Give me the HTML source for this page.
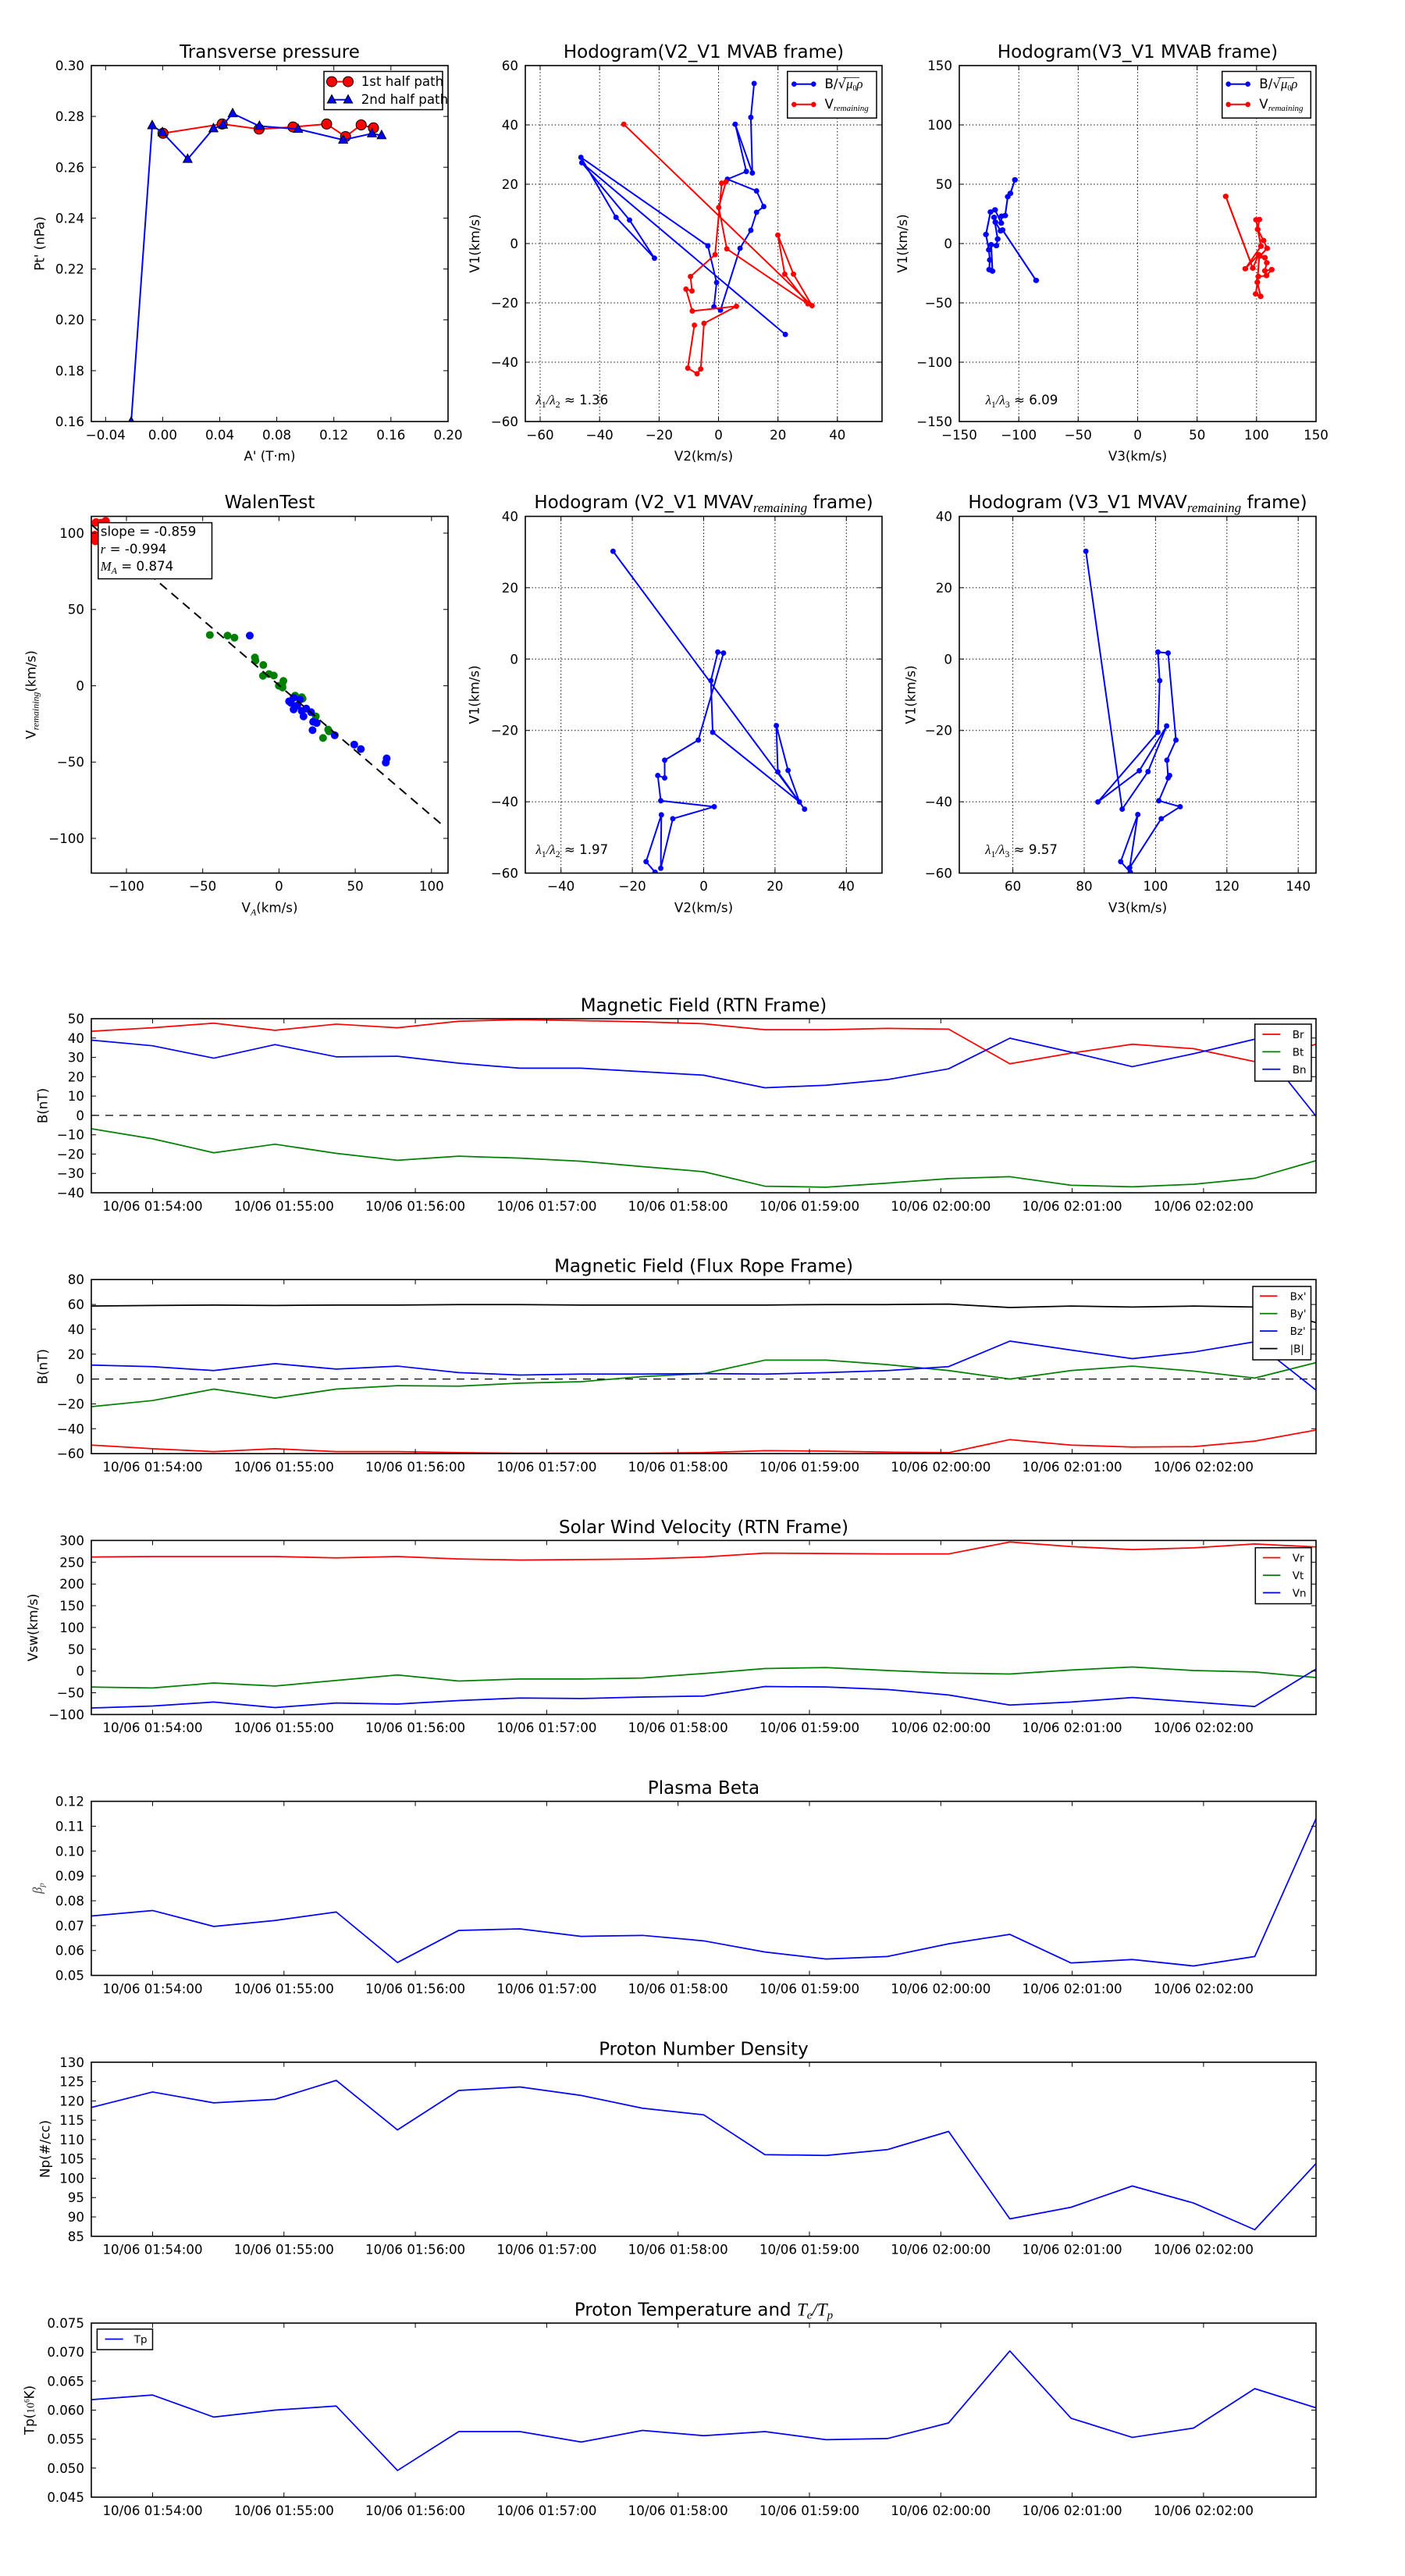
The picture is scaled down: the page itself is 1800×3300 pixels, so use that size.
<!DOCTYPE html>
<html><head><meta charset="utf-8"><style>
html,body{margin:0;padding:0;background:#fff}
svg{display:block}
text{font-family:'DejaVu Sans','Liberation Sans',sans-serif;font-size:16.67px;fill:#000}
.t{font-size:23px;text-anchor:middle}
.ye{text-anchor:end}
.xm{text-anchor:middle}
.mi{font-family:'Liberation Serif','DejaVu Serif',serif;font-style:italic}
.mr{font-family:'Liberation Serif','DejaVu Serif',serif}
.ax{fill:none;stroke:#000;stroke-width:1.6}
.tk{fill:none;stroke:#000;stroke-width:1}
.gr{fill:none;stroke:#000;stroke-width:1;stroke-dasharray:1.4 2.8}
.ts{fill:none;stroke-width:1.75;stroke-linejoin:round}
.lg{font-size:13.5px}
</style></head><body>
<svg width="1800" height="3300" viewBox="0 0 1800 3300" xmlns="http://www.w3.org/2000/svg">
<rect width="1800" height="3300" fill="#fff"/>
<defs>
<clipPath id="c11"><rect x="117" y="84" width="457" height="456"/></clipPath>
<clipPath id="c12"><rect x="673" y="84" width="457" height="456"/></clipPath>
<clipPath id="c13"><rect x="1229" y="84" width="457" height="456"/></clipPath>
<clipPath id="c21"><rect x="117" y="661.5" width="457" height="457"/></clipPath>
<clipPath id="c22"><rect x="673" y="661.5" width="457" height="457"/></clipPath>
<clipPath id="c23"><rect x="1229" y="661.5" width="457" height="457"/></clipPath>
<clipPath id="p1"><rect x="117" y="1305" width="1569" height="223"/></clipPath>
<clipPath id="p2"><rect x="117" y="1639.2" width="1569" height="223"/></clipPath>
<clipPath id="p3"><rect x="117" y="1973.4" width="1569" height="223"/></clipPath>
<clipPath id="p4"><rect x="117" y="2307.6" width="1569" height="223"/></clipPath>
<clipPath id="p5"><rect x="117" y="2641.8" width="1569" height="223"/></clipPath>
<clipPath id="p6"><rect x="117" y="2976" width="1569" height="223"/></clipPath>
<marker id="mc" markerUnits="userSpaceOnUse" markerWidth="44" markerHeight="44" viewBox="-22 -22 44 44" refX="0" refY="0" overflow="visible"><circle r="17" fill="#ff0000" stroke="#000" stroke-width="2.6"/></marker>
<marker id="mt" markerUnits="userSpaceOnUse" markerWidth="44" markerHeight="44" viewBox="-22 -22 44 44" refX="0" refY="0" overflow="visible"><path d="M0,-17L15,11L-15,11Z" fill="#0000ff" stroke="#000" stroke-width="2.6"/></marker>
<marker id="db" markerUnits="userSpaceOnUse" markerWidth="24" markerHeight="24" viewBox="-12 -12 24 24" refX="0" refY="0" overflow="visible"><circle r="9" fill="#0000ff"/></marker>
<marker id="dr" markerUnits="userSpaceOnUse" markerWidth="24" markerHeight="24" viewBox="-12 -12 24 24" refX="0" refY="0" overflow="visible"><circle r="9" fill="#ff0000"/></marker>
<path id="xtt" d="M195.5 0v6M363.8 0v6M532.1 0v6M700.4 0v6M868.7 0v6M1037 0v6M1205.3 0v6M1373.6 0v6M1541.9 0v6" class="tk"/>
<path id="xtb" d="M195.5 0v-6M363.8 0v-6M532.1 0v-6M700.4 0v-6M868.7 0v-6M1037 0v-6M1205.3 0v-6M1373.6 0v-6M1541.9 0v-6" class="tk"/>
</defs>

<!-- ===================== Row 1 Plot 1: Transverse pressure ===================== -->
<text class="t" x="345.5" y="74">Transverse pressure</text>
<g clip-path="url(#c11)"><g transform="scale(0.384615)">
<polyline points="543,444 740,413 863,430 976,423 1088,413 1151,455 1203,416 1244,426" fill="none" stroke="#ff0000" stroke-width="5.2" marker-start="url(#mc)" marker-mid="url(#mc)" marker-end="url(#mc)"/>
<polyline points="437,1405 507,418 541,441 625,530 711,428 743,416 775,378 864,420 993,430 1143,466 1239,445 1271,451" fill="none" stroke="#0000ff" stroke-width="5.2" marker-start="url(#mt)" marker-mid="url(#mt)" marker-end="url(#mt)"/>
</g></g>
<rect class="ax" x="117" y="84" width="457" height="456"/>
<path class="tk" d="M135.3 540v-6M208.4 540v-6M281.5 540v-6M354.6 540v-6M427.7 540v-6M500.8 540v-6M135.3 84v6M208.4 84v6M281.5 84v6M354.6 84v6M427.7 84v6M500.8 84v6M117 149.1h6M117 214.3h6M117 279.4h6M117 344.6h6M117 409.7h6M117 474.9h6M574 149.1h-6M574 214.3h-6M574 279.4h-6M574 344.6h-6M574 409.7h-6M574 474.9h-6"/>
<g class="ye"><text class="ye" x="108" y="90">0.30</text><text class="ye" x="108" y="155.1">0.28</text><text class="ye" x="108" y="220.3">0.26</text><text class="ye" x="108" y="285.4">0.24</text><text class="ye" x="108" y="350.6">0.22</text><text class="ye" x="108" y="415.7">0.20</text><text class="ye" x="108" y="480.9">0.18</text><text class="ye" x="108" y="546">0.16</text></g>
<text class="xm" x="135.3" y="562.8">−0.04</text><text class="xm" x="208.4" y="562.8">0.00</text><text class="xm" x="281.5" y="562.8">0.04</text><text class="xm" x="354.6" y="562.8">0.08</text><text class="xm" x="427.7" y="562.8">0.12</text><text class="xm" x="500.8" y="562.8">0.16</text><text class="xm" x="574" y="562.8">0.20</text>
<text class="xm" x="345.5" y="590">A' (T·m)</text>
<text transform="translate(50.5 312) rotate(-90)" y="6" text-anchor="middle">Pt' (nPa)</text>
<rect x="415" y="91.5" width="152" height="49" fill="#fff" stroke="#000" stroke-width="1.5"/>
<path d="M425 104.6H446" stroke="#ff0000" stroke-width="2"/>
<circle cx="425" cy="104.6" r="6.5" fill="#ff0000" stroke="#000" stroke-width="1"/><circle cx="446" cy="104.6" r="6.5" fill="#ff0000" stroke="#000" stroke-width="1"/>
<text x="462.7" y="110" font-size="14.6">1st half path</text>
<path d="M425 127.7H446" stroke="#0000ff" stroke-width="2"/>
<polygon points="425,121.5 419.3,132 430.7,132" fill="#0000ff" stroke="#000" stroke-width="1"/><polygon points="446,121.5 440.3,132 451.7,132" fill="#0000ff" stroke="#000" stroke-width="1"/>
<text x="462.7" y="133" font-size="14.6">2nd half path</text>

<!-- ===================== Row 1 Plot 2: Hodogram V2_V1 MVAB ===================== -->
<text class="t" x="901.5" y="74">Hodogram(V2_V1 MVAB frame)</text>
<path class="gr" d="M692 84V540M768.2 84V540M844.4 84V540M920.5 84V540M996.7 84V540M1072.8 84V540M673 160H1130M673 236H1130M673 312H1130M673 388H1130M673 464H1130"/>
<g clip-path="url(#c12)"><g transform="translate(600 0) scale(0.384615)">
<polyline points="952,278 941,391 946,576 889,414 926,571 863,597 960,636 984,688 960,707 941,767 905,827 840,1033 818,1022 827,941 798,819 375,524 492,724 620,860 537,733 378,542 1056,1114" fill="none" stroke="#0000ff" stroke-width="5.2" stroke-linejoin="round" marker-start="url(#db)" marker-mid="url(#db)" marker-end="url(#db)"/>
<polyline points="518,414 1145,1018 1083,913 1031,783 1054,913 1131,1012 861,829 834,691 858,606 844,610 822,848 740,921 745,969 725,963 746,1036 893,1020 785,1077 774,1229 762,1245 731,1226 753,1083" fill="none" stroke="#ff0000" stroke-width="5.2" stroke-linejoin="round" marker-start="url(#dr)" marker-mid="url(#dr)" marker-end="url(#dr)"/>
</g></g>
<rect class="ax" x="673" y="84" width="457" height="456"/>
<path class="tk" d="M692 540v-6M768.2 540v-6M844.4 540v-6M920.5 540v-6M996.7 540v-6M1072.8 540v-6M692 84v6M768.2 84v6M844.4 84v6M920.5 84v6M996.7 84v6M1072.8 84v6M673 160h6M673 236h6M673 312h6M673 388h6M673 464h6M1130 160h-6M1130 236h-6M1130 312h-6M1130 388h-6M1130 464h-6"/>
<text class="ye" x="664" y="90">60</text><text class="ye" x="664" y="166">40</text><text class="ye" x="664" y="242">20</text><text class="ye" x="664" y="318">0</text><text class="ye" x="664" y="394">−20</text><text class="ye" x="664" y="470">−40</text><text class="ye" x="664" y="546">−60</text>
<text class="xm" x="692" y="562.8">−60</text><text class="xm" x="768.2" y="562.8">−40</text><text class="xm" x="844.4" y="562.8">−20</text><text class="xm" x="920.5" y="562.8">0</text><text class="xm" x="996.7" y="562.8">20</text><text class="xm" x="1072.8" y="562.8">40</text>
<text class="xm" x="901.5" y="590">V2(km/s)</text>
<text transform="translate(608 312) rotate(-90)" y="6" text-anchor="middle">V1(km/s)</text>
<text x="686.5" y="518" font-size="18"><tspan class="mi">λ</tspan><tspan class="mr" font-size="12" dy="4">1</tspan><tspan class="mi" dy="-4">/λ</tspan><tspan class="mr" font-size="12" dy="4">2</tspan><tspan dy="-4"> ≈ 1.36</tspan></text>
<rect x="1008.8" y="91.5" width="114.2" height="59.7" fill="#fff" stroke="#000" stroke-width="1.5"/>
<path d="M1017.3 107.7H1042.3" stroke="#0000ff" stroke-width="2"/><circle cx="1017.3" cy="107.7" r="3.3" fill="#0000ff"/><circle cx="1042.3" cy="107.7" r="3.3" fill="#0000ff"/>
<text x="1056.5" y="113" font-size="14.6">B/√<tspan class="mi">μ</tspan><tspan class="mr" font-size="10" dy="3">0</tspan><tspan class="mi" dy="-3">ρ</tspan></text>
<path d="M1080 99.5H1101" stroke="#000" stroke-width="0.8"/>
<path d="M1017.3 133.8H1042.3" stroke="#ff0000" stroke-width="2"/><circle cx="1017.3" cy="133.8" r="3.3" fill="#ff0000"/><circle cx="1042.3" cy="133.8" r="3.3" fill="#ff0000"/>
<text x="1056.5" y="139" font-size="14.6">V<tspan class="mi" font-size="11" dy="3">remaining</tspan></text>

<!-- ===================== Row 1 Plot 3: Hodogram V3_V1 MVAB ===================== -->
<text class="t" x="1457.5" y="74">Hodogram(V3_V1 MVAB frame)</text>
<path class="gr" d="M1305.2 84V540M1381.3 84V540M1457.5 84V540M1533.7 84V540M1609.8 84V540M1229 160H1686M1229 236H1686M1229 312H1686M1229 388H1686M1229 464H1686"/>
<g clip-path="url(#c13)"><g transform="matrix(0.41743 0 0 0.384615 1150 0)">
<polyline points="360,599 346,644 338,655 330,718 319,720 318,743 299,699 285,706 271,781 280,832 283,866 281,898 291,903 287,815 303,818 307,796 296,724 300,740 316,769 322,766 425,934" fill="none" stroke="#0000ff" stroke-width="5.2" stroke-linejoin="round" marker-start="url(#db)" marker-mid="url(#db)" marker-end="url(#db)"/>
<polyline points="1007,654 1090,893 1108,848 1067,895 1115,820 1100,732 1110,731 1105,764 1123,801 1134,827 1112,853 1127,858 1133,875 1127,902 1148,898 1132,918 1107,921 1099,979 1114,987 1104,940 1110,850" fill="none" stroke="#ff0000" stroke-width="5.2" stroke-linejoin="round" marker-start="url(#dr)" marker-mid="url(#dr)" marker-end="url(#dr)"/>
</g></g>
<rect class="ax" x="1229" y="84" width="457" height="456"/>
<path class="tk" d="M1305.2 540v-6M1381.3 540v-6M1457.5 540v-6M1533.7 540v-6M1609.8 540v-6M1305.2 84v6M1381.3 84v6M1457.5 84v6M1533.7 84v6M1609.8 84v6M1229 160h6M1229 236h6M1229 312h6M1229 388h6M1229 464h6M1686 160h-6M1686 236h-6M1686 312h-6M1686 388h-6M1686 464h-6"/>
<text class="ye" x="1220" y="90">150</text><text class="ye" x="1220" y="166">100</text><text class="ye" x="1220" y="242">50</text><text class="ye" x="1220" y="318">0</text><text class="ye" x="1220" y="394">−50</text><text class="ye" x="1220" y="470">−100</text><text class="ye" x="1220" y="546">−150</text>
<text class="xm" x="1229" y="562.8">−150</text><text class="xm" x="1305.2" y="562.8">−100</text><text class="xm" x="1381.3" y="562.8">−50</text><text class="xm" x="1457.5" y="562.8">0</text><text class="xm" x="1533.7" y="562.8">50</text><text class="xm" x="1609.8" y="562.8">100</text><text class="xm" x="1686" y="562.8">150</text>
<text class="xm" x="1457.5" y="590">V3(km/s)</text>
<text transform="translate(1156 312) rotate(-90)" y="6" text-anchor="middle">V1(km/s)</text>
<text x="1262.7" y="518" font-size="18"><tspan class="mi">λ</tspan><tspan class="mr" font-size="12" dy="4">1</tspan><tspan class="mi" dy="-4">/λ</tspan><tspan class="mr" font-size="12" dy="4">3</tspan><tspan dy="-4"> ≈ 6.09</tspan></text>
<rect x="1565.7" y="91.5" width="113.6" height="59.7" fill="#fff" stroke="#000" stroke-width="1.5"/>
<path d="M1573.7 107.7H1598.7" stroke="#0000ff" stroke-width="2"/><circle cx="1573.7" cy="107.7" r="3.3" fill="#0000ff"/><circle cx="1598.7" cy="107.7" r="3.3" fill="#0000ff"/>
<text x="1613.3" y="113" font-size="14.6">B/√<tspan class="mi">μ</tspan><tspan class="mr" font-size="10" dy="3">0</tspan><tspan class="mi" dy="-3">ρ</tspan></text>
<path d="M1637 99.5H1658" stroke="#000" stroke-width="0.8"/>
<path d="M1573.7 133.8H1598.7" stroke="#ff0000" stroke-width="2"/><circle cx="1573.7" cy="133.8" r="3.3" fill="#ff0000"/><circle cx="1598.7" cy="133.8" r="3.3" fill="#ff0000"/>
<text x="1613.3" y="139" font-size="14.6">V<tspan class="mi" font-size="11" dy="3">remaining</tspan></text>

<!-- ===================== Row 2 Plot 1: WalenTest ===================== -->
<text class="t" x="345.5" y="651">WalenTest</text>
<g clip-path="url(#c21)"><g transform="translate(0 600) scale(0.384615)">
<g fill="#008000">
<circle cx="699" cy="555" r="13"/><circle cx="758" cy="557" r="13"/><circle cx="781" cy="564" r="13"/><circle cx="849" cy="630" r="13"/><circle cx="851" cy="640" r="13"/><circle cx="877" cy="655" r="13"/><circle cx="876" cy="691" r="13"/><circle cx="896" cy="685" r="13"/><circle cx="912" cy="690" r="13"/><circle cx="944" cy="708" r="13"/><circle cx="929" cy="724" r="13"/><circle cx="941" cy="730" r="13"/><circle cx="983" cy="757" r="13"/><circle cx="1008" cy="767" r="13"/><circle cx="1052" cy="826" r="13"/><circle cx="1093" cy="870" r="13"/><circle cx="1076" cy="898" r="13"/><circle cx="1096" cy="876" r="13"/><circle cx="940" cy="722" r="13"/><circle cx="1005" cy="762" r="13"/>
</g>
<g fill="#0000ff">
<circle cx="832" cy="557" r="13"/><circle cx="963" cy="776" r="13"/><circle cx="978" cy="764" r="13"/><circle cx="990" cy="790" r="13"/><circle cx="978" cy="803" r="13"/><circle cx="999" cy="770" r="13"/><circle cx="1005" cy="808" r="13"/><circle cx="1011" cy="826" r="13"/><circle cx="1036" cy="812" r="13"/><circle cx="1043" cy="844" r="13"/><circle cx="1055" cy="848" r="13"/><circle cx="1041" cy="872" r="13"/><circle cx="1115" cy="889" r="13"/><circle cx="1180" cy="920" r="13"/><circle cx="1202" cy="935" r="13"/><circle cx="1288" cy="966" r="13"/><circle cx="1285" cy="980" r="13"/><circle cx="969" cy="781" r="13"/><circle cx="1020" cy="800" r="13"/>
</g>
<g fill="#ff0000">
<circle cx="320" cy="180" r="14"/><circle cx="352" cy="176" r="14"/><circle cx="316" cy="222" r="14"/><circle cx="318" cy="242" r="14"/><circle cx="336" cy="182" r="14"/>
</g>
<path d="M305 188L1470 1185" stroke="#000" stroke-width="5.2" stroke-dasharray="30 20" fill="none"/>
</g></g>
<rect class="ax" x="117" y="661.5" width="457" height="457"/>
<path class="tk" d="M162 1118.5v-6M259.7 1118.5v-6M357.4 1118.5v-6M455.1 1118.5v-6M552.8 1118.5v-6M162 661.5v6M259.7 661.5v6M357.4 661.5v6M455.1 661.5v6M552.8 661.5v6M117 683h6M117 780.7h6M117 878.5h6M117 976.2h6M117 1074h6M574 683h-6M574 780.7h-6M574 878.5h-6M574 976.2h-6M574 1074h-6"/>
<text class="ye" x="108" y="689">100</text><text class="ye" x="108" y="786.7">50</text><text class="ye" x="108" y="884.5">0</text><text class="ye" x="108" y="982.2">−50</text><text class="ye" x="108" y="1080">−100</text>
<text class="xm" x="162" y="1141">−100</text><text class="xm" x="259.7" y="1141">−50</text><text class="xm" x="357.4" y="1141">0</text><text class="xm" x="455.1" y="1141">50</text><text class="xm" x="552.8" y="1141">100</text>
<text class="xm" x="345.5" y="1168.5">V<tspan class="mi" font-size="12" dy="4">A</tspan><tspan dy="-4">(km/s)</tspan></text>
<text transform="translate(39.6 890) rotate(-90)" y="6" text-anchor="middle">V<tspan class="mi" font-size="12" dy="4">remaining</tspan><tspan dy="-4">(km/s)</tspan></text>
<rect x="125.8" y="669.6" width="145.7" height="71.9" fill="#fff" stroke="#000" stroke-width="1.5"/>
<text x="128.8" y="686.5" font-size="18.5">slope = -0.859</text>
<text x="128.8" y="709" font-size="18.5"><tspan class="mi">r</tspan> = -0.994</text>
<text x="128.8" y="731" font-size="18.5"><tspan class="mi">M</tspan><tspan class="mi" font-size="12" dy="4">A</tspan><tspan dy="-4"> = 0.874</tspan></text>

<!-- ===================== Row 2 Plot 2 ===================== -->
<text class="t" x="901.5" y="651">Hodogram (V2_V1 MVAV<tspan class="mi" font-size="17" dy="5">remaining</tspan><tspan dy="-5"> frame)</tspan></text>
<path class="gr" d="M718.7 661.5V1118.5M810.1 661.5V1118.5M901.5 661.5V1118.5M992.9 661.5V1118.5M1084.3 661.5V1118.5M673 752.9H1130M673 844.3H1130M673 935.7H1130M673 1027.1H1130"/>
<g clip-path="url(#c22)"><g transform="translate(600 600) scale(0.384615)">
<polyline points="482,276 1120,1135 1031,1011 1026,857 1065,1006 1103,1111 814,879 808,707 831,612 850,615 766,905 654,972 654,1031 631,1023 641,1107 819,1127 681,1167 641,1332 643,1154 592,1310 622,1345" fill="none" stroke="#0000ff" stroke-width="5.2" stroke-linejoin="round" marker-start="url(#db)" marker-mid="url(#db)" marker-end="url(#db)"/>
</g></g>
<rect class="ax" x="673" y="661.5" width="457" height="457"/>
<path class="tk" d="M718.7 1118.5v-6M810.1 1118.5v-6M901.5 1118.5v-6M992.9 1118.5v-6M1084.3 1118.5v-6M718.7 661.5v6M810.1 661.5v6M901.5 661.5v6M992.9 661.5v6M1084.3 661.5v6M673 752.9h6M673 844.3h6M673 935.7h6M673 1027.1h6M1130 752.9h-6M1130 844.3h-6M1130 935.7h-6M1130 1027.1h-6"/>
<text class="ye" x="664" y="667.5">40</text><text class="ye" x="664" y="758.9">20</text><text class="ye" x="664" y="850.3">0</text><text class="ye" x="664" y="941.7">−20</text><text class="ye" x="664" y="1033.1">−40</text><text class="ye" x="664" y="1124.5">−60</text>
<text class="xm" x="718.7" y="1141">−40</text><text class="xm" x="810.1" y="1141">−20</text><text class="xm" x="901.5" y="1141">0</text><text class="xm" x="992.9" y="1141">20</text><text class="xm" x="1084.3" y="1141">40</text>
<text class="xm" x="901.5" y="1168.5">V2(km/s)</text>
<text transform="translate(607.7 890) rotate(-90)" y="6" text-anchor="middle">V1(km/s)</text>
<text x="686.5" y="1094" font-size="18"><tspan class="mi">λ</tspan><tspan class="mr" font-size="12" dy="4">1</tspan><tspan class="mi" dy="-4">/λ</tspan><tspan class="mr" font-size="12" dy="4">2</tspan><tspan dy="-4"> ≈ 1.97</tspan></text>

<!-- ===================== Row 2 Plot 3 ===================== -->
<text class="t" x="1457.5" y="651">Hodogram (V3_V1 MVAV<tspan class="mi" font-size="17" dy="5">remaining</tspan><tspan dy="-5"> frame)</tspan></text>
<path class="gr" d="M1297.6 661.5V1118.5M1389 661.5V1118.5M1480.4 661.5V1118.5M1571.8 661.5V1118.5M1663.2 661.5V1118.5M1229 752.9H1686M1229 844.3H1686M1229 935.7H1686M1229 1027.1H1686"/>
<g clip-path="url(#c23)"><g transform="translate(1200 600) scale(0.384615)">
<polyline points="497,276 618,1135 704,1010 766,858 675,1007 537,1111 737,879 743,707 737,612 771,615 797,905 767,972 771,1031 776,1023 740,1107 811,1127 748,1167 643,1330 670,1153 613,1310 645,1345" fill="none" stroke="#0000ff" stroke-width="5.2" stroke-linejoin="round" marker-start="url(#db)" marker-mid="url(#db)" marker-end="url(#db)"/>
</g></g>
<rect class="ax" x="1229" y="661.5" width="457" height="457"/>
<path class="tk" d="M1297.6 1118.5v-6M1389 1118.5v-6M1480.4 1118.5v-6M1571.8 1118.5v-6M1663.2 1118.5v-6M1297.6 661.5v6M1389 661.5v6M1480.4 661.5v6M1571.8 661.5v6M1663.2 661.5v6M1229 752.9h6M1229 844.3h6M1229 935.7h6M1229 1027.1h6M1686 752.9h-6M1686 844.3h-6M1686 935.7h-6M1686 1027.1h-6"/>
<text class="ye" x="1220" y="667.5">40</text><text class="ye" x="1220" y="758.9">20</text><text class="ye" x="1220" y="850.3">0</text><text class="ye" x="1220" y="941.7">−20</text><text class="ye" x="1220" y="1033.1">−40</text><text class="ye" x="1220" y="1124.5">−60</text>
<text class="xm" x="1297.6" y="1141">60</text><text class="xm" x="1389" y="1141">80</text><text class="xm" x="1480.4" y="1141">100</text><text class="xm" x="1571.8" y="1141">120</text><text class="xm" x="1663.2" y="1141">140</text>
<text class="xm" x="1457.5" y="1168.5">V3(km/s)</text>
<text transform="translate(1166.5 890) rotate(-90)" y="6" text-anchor="middle">V1(km/s)</text>
<text x="1262.3" y="1094" font-size="18"><tspan class="mi">λ</tspan><tspan class="mr" font-size="12" dy="4">1</tspan><tspan class="mi" dy="-4">/λ</tspan><tspan class="mr" font-size="12" dy="4">3</tspan><tspan dy="-4"> ≈ 9.57</tspan></text>

<!-- ===================== Panel 1: Magnetic Field RTN ===================== -->
<text class="t" x="901.5" y="1295.5">Magnetic Field (RTN Frame)</text>
<path d="M117 1428.9H1686" stroke="#000" stroke-width="1.2" stroke-dasharray="10 8"/>
<g clip-path="url(#p1)"><g transform="translate(117 1428.89) scale(78.45 -2.4778)">
<polyline class="ts" vector-effect="non-scaling-stroke" stroke="#ff0000" points="0,43.5 1,45.3 2,47.7 3,44 4,47.2 5,45.3 6,48.7 7,49.5 8,49 9,48.4 10,47.4 11,44.3 12,44.3 13,45 14,44.6 15,26.7 16,32.2 17,36.8 18,34.5 19,27.8 20,36.8"/>
<polyline class="ts" vector-effect="non-scaling-stroke" stroke="#008000" points="0,-6.9 1,-12.1 2,-19.3 3,-14.9 4,-19.6 5,-23.2 6,-21.1 7,-22.1 8,-23.7 9,-26.5 10,-29.1 11,-36.6 12,-37.1 13,-35 14,-32.7 15,-31.7 16,-36.1 17,-36.9 18,-35.6 19,-32.5 20,-23.4"/>
<polyline class="ts" vector-effect="non-scaling-stroke" stroke="#0000ff" points="0,38.9 1,36 2,29.6 3,36.6 4,30.3 5,30.6 6,27 7,24.4 8,24.4 9,22.6 10,20.8 11,14.3 12,15.6 13,18.5 14,24.1 15,39.9 16,32.7 17,25.2 18,31.9 19,39.4 20,-0.4"/>
</g></g>
<rect class="ax" x="117" y="1305" width="1569" height="223"/>
<use href="#xtt" y="1305"/><use href="#xtb" y="1528"/>
<path class="tk" d="M117 1329.8h6M117 1354.6h6M117 1379.3h6M117 1404.1h6M117 1428.9h6M117 1453.7h6M117 1478.4h6M117 1503.2h6M1686 1329.8h-6M1686 1354.6h-6M1686 1379.3h-6M1686 1404.1h-6M1686 1428.9h-6M1686 1453.7h-6M1686 1478.4h-6M1686 1503.2h-6"/>
<text class="ye" x="108" y="1311">50</text><text class="ye" x="108" y="1335.8">40</text><text class="ye" x="108" y="1360.6">30</text><text class="ye" x="108" y="1385.3">20</text><text class="ye" x="108" y="1410.1">10</text><text class="ye" x="108" y="1434.9">0</text><text class="ye" x="108" y="1459.7">−10</text><text class="ye" x="108" y="1484.4">−20</text><text class="ye" x="108" y="1509.2">−30</text><text class="ye" x="108" y="1534">−40</text>
<text class="xm" x="195.5" y="1550.8">10/06 01:54:00</text><text class="xm" x="363.8" y="1550.8">10/06 01:55:00</text><text class="xm" x="532.1" y="1550.8">10/06 01:56:00</text><text class="xm" x="700.4" y="1550.8">10/06 01:57:00</text><text class="xm" x="868.7" y="1550.8">10/06 01:58:00</text><text class="xm" x="1037" y="1550.8">10/06 01:59:00</text><text class="xm" x="1205.3" y="1550.8">10/06 02:00:00</text><text class="xm" x="1373.6" y="1550.8">10/06 02:01:00</text><text class="xm" x="1541.9" y="1550.8">10/06 02:02:00</text>
<text transform="translate(54.5 1416.5) rotate(-90)" y="6" text-anchor="middle">B(nT)</text>
<rect x="1607.7" y="1312" width="72.3" height="73" fill="#fff" stroke="#000" stroke-width="1.5"/>
<path d="M1617.3 1325H1640.4" stroke="#ff0000" stroke-width="1.75"/><path d="M1617.3 1347.4H1640.4" stroke="#008000" stroke-width="1.75"/><path d="M1617.3 1369.8H1640.4" stroke="#0000ff" stroke-width="1.75"/>
<text class="lg" x="1655.8" y="1330">Br</text><text class="lg" x="1655.8" y="1352.4">Bt</text><text class="lg" x="1655.8" y="1374.8">Bn</text>

<!-- ===================== Panel 2: Flux Rope ===================== -->
<text class="t" x="901.5" y="1629.7">Magnetic Field (Flux Rope Frame)</text>
<path d="M117 1766.6H1686" stroke="#000" stroke-width="1.2" stroke-dasharray="10 8"/>
<g clip-path="url(#p2)"><g transform="translate(117 1766.63) scale(78.45 -1.5929)">
<polyline class="ts" vector-effect="non-scaling-stroke" stroke="#ff0000" points="0,-53.1 1,-56 2,-58.4 3,-56 4,-58.4 5,-58.4 6,-59.2 7,-59.6 8,-59.6 9,-59.6 10,-59.2 11,-57.6 12,-58 13,-58.8 14,-59.2 15,-48.7 16,-53.1 17,-54.7 18,-54.4 19,-49.9 20,-41"/>
<polyline class="ts" vector-effect="non-scaling-stroke" stroke="#008000" points="0,-22.2 1,-17.3 2,-8.1 3,-15.3 4,-8.1 5,-5.3 6,-5.7 7,-3.3 8,-2.1 9,2 10,4.4 11,15.2 12,15.2 13,11.6 14,6.8 15,0 16,6.8 17,10.4 18,6.4 19,0.8 20,13.2"/>
<polyline class="ts" vector-effect="non-scaling-stroke" stroke="#0000ff" points="0,11.2 1,10 2,6.8 3,12.4 4,8 5,10.4 6,5.2 7,3.2 8,4 9,4 10,4.4 11,4 12,5.2 13,6.8 14,10 15,30.5 16,23.3 17,16.4 18,21.7 19,30 20,-8.9"/>
<polyline class="ts" vector-effect="non-scaling-stroke" stroke="#000000" points="0,58.7 1,59.2 2,59.5 3,59.2 4,59.5 5,59.5 6,59.9 7,59.9 8,59.5 9,59.5 10,59.5 11,59.5 12,59.9 13,59.9 14,60.3 15,57.5 16,58.7 17,57.9 18,58.7 19,57.9 20,45.4"/>
</g></g>
<rect class="ax" x="117" y="1639.2" width="1569" height="223"/>
<use href="#xtt" y="1639.2"/><use href="#xtb" y="1862.2"/>
<path class="tk" d="M117 1671.1h6M117 1702.9h6M117 1734.8h6M117 1766.6h6M117 1798.5h6M117 1830.3h6M1686 1671.1h-6M1686 1702.9h-6M1686 1734.8h-6M1686 1766.6h-6M1686 1798.5h-6M1686 1830.3h-6"/>
<text class="ye" x="108" y="1645.2">80</text><text class="ye" x="108" y="1677.1">60</text><text class="ye" x="108" y="1708.9">40</text><text class="ye" x="108" y="1740.8">20</text><text class="ye" x="108" y="1772.6">0</text><text class="ye" x="108" y="1804.5">−20</text><text class="ye" x="108" y="1836.3">−40</text><text class="ye" x="108" y="1868.2">−60</text>
<text class="xm" x="195.5" y="1885">10/06 01:54:00</text><text class="xm" x="363.8" y="1885">10/06 01:55:00</text><text class="xm" x="532.1" y="1885">10/06 01:56:00</text><text class="xm" x="700.4" y="1885">10/06 01:57:00</text><text class="xm" x="868.7" y="1885">10/06 01:58:00</text><text class="xm" x="1037" y="1885">10/06 01:59:00</text><text class="xm" x="1205.3" y="1885">10/06 02:00:00</text><text class="xm" x="1373.6" y="1885">10/06 02:01:00</text><text class="xm" x="1541.9" y="1885">10/06 02:02:00</text>
<text transform="translate(54.5 1750.7) rotate(-90)" y="6" text-anchor="middle">B(nT)</text>
<rect x="1605" y="1648" width="74.5" height="94" fill="#fff" stroke="#000" stroke-width="1.5"/>
<path d="M1614 1660.3H1636.5" stroke="#ff0000" stroke-width="1.75"/><path d="M1614 1682.7H1636.5" stroke="#008000" stroke-width="1.75"/><path d="M1614 1705.1H1636.5" stroke="#0000ff" stroke-width="1.75"/><path d="M1614 1727.6H1636.5" stroke="#000" stroke-width="1.75"/>
<text class="lg" x="1652.6" y="1665.3">Bx'</text><text class="lg" x="1652.6" y="1687.7">By'</text><text class="lg" x="1652.6" y="1710.1">Bz'</text><text class="lg" x="1652.6" y="1732.6">|B|</text>

<!-- ===================== Panel 3: Solar Wind Velocity ===================== -->
<text class="t" x="901.5" y="1963.9">Solar Wind Velocity (RTN Frame)</text>
<g clip-path="url(#p3)"><g transform="translate(117 2140.65) scale(78.45 -0.5575)">
<polyline class="ts" vector-effect="non-scaling-stroke" stroke="#ff0000" points="0,262 1,263 2,263 3,263 4,260 5,263 6,257.5 7,255 8,256 9,257.5 10,262 11,271 12,270 13,269 14,269 15,296.5 16,286 17,279 18,283 19,292 20,285"/>
<polyline class="ts" vector-effect="non-scaling-stroke" stroke="#008000" points="0,-36.8 1,-39 2,-27.6 3,-34.5 4,-21.8 5,-9.2 6,-23 7,-18.4 8,-18.4 9,-16 10,-5.7 11,5.7 12,8 13,1.1 14,-4.6 15,-6.9 16,2.3 17,9.2 18,1.1 19,-2.3 20,-15"/>
<polyline class="ts" vector-effect="non-scaling-stroke" stroke="#0000ff" points="0,-85 1,-80.5 2,-71.3 3,-84 4,-73.6 5,-75.9 6,-67.8 7,-62 8,-63.2 9,-59.8 10,-57.5 11,-35.6 12,-36.8 13,-42.5 14,-55.2 15,-78.2 16,-71.3 17,-60.9 18,-71.3 19,-81.6 20,4.6"/>
</g></g>
<rect class="ax" x="117" y="1973.4" width="1569" height="223"/>
<use href="#xtt" y="1973.4"/><use href="#xtb" y="2196.4"/>
<path class="tk" d="M117 2001.3h6M117 2029.2h6M117 2057h6M117 2084.9h6M117 2112.8h6M117 2140.7h6M117 2168.5h6M1686 2001.3h-6M1686 2029.2h-6M1686 2057h-6M1686 2084.9h-6M1686 2112.8h-6M1686 2140.7h-6M1686 2168.5h-6"/>
<text class="ye" x="108" y="1979.4">300</text><text class="ye" x="108" y="2007.3">250</text><text class="ye" x="108" y="2035.2">200</text><text class="ye" x="108" y="2063">150</text><text class="ye" x="108" y="2090.9">100</text><text class="ye" x="108" y="2118.8">50</text><text class="ye" x="108" y="2146.7">0</text><text class="ye" x="108" y="2174.5">−50</text><text class="ye" x="108" y="2202.4">−100</text>
<text class="xm" x="195.5" y="2219.2">10/06 01:54:00</text><text class="xm" x="363.8" y="2219.2">10/06 01:55:00</text><text class="xm" x="532.1" y="2219.2">10/06 01:56:00</text><text class="xm" x="700.4" y="2219.2">10/06 01:57:00</text><text class="xm" x="868.7" y="2219.2">10/06 01:58:00</text><text class="xm" x="1037" y="2219.2">10/06 01:59:00</text><text class="xm" x="1205.3" y="2219.2">10/06 02:00:00</text><text class="xm" x="1373.6" y="2219.2">10/06 02:01:00</text><text class="xm" x="1541.9" y="2219.2">10/06 02:02:00</text>
<text transform="translate(42 2085) rotate(-90)" y="6" text-anchor="middle">Vsw(km/s)</text>
<rect x="1608.3" y="1982.7" width="71.7" height="71.8" fill="#fff" stroke="#000" stroke-width="1.5"/>
<path d="M1618 1995.5H1640.4" stroke="#ff0000" stroke-width="1.75"/><path d="M1618 2018H1640.4" stroke="#008000" stroke-width="1.75"/><path d="M1618 2040.4H1640.4" stroke="#0000ff" stroke-width="1.75"/>
<text class="lg" x="1655.8" y="2000.5">Vr</text><text class="lg" x="1655.8" y="2023">Vt</text><text class="lg" x="1655.8" y="2045.4">Vn</text>

<!-- ===================== Panel 4: Plasma Beta ===================== -->
<text class="t" x="901.5" y="2298.1">Plasma Beta</text>
<g clip-path="url(#p4)"><g transform="translate(117 2689.89) scale(78.45 -31.857)">
<polyline class="ts" vector-effect="non-scaling-stroke" stroke="#0000ff" points="0,7.39 1,7.61 2,6.97 3,7.21 4,7.55 5,5.52 6,6.81 7,6.87 8,6.57 9,6.61 10,6.39 11,5.94 12,5.66 13,5.76 14,6.27 15,6.65 16,5.5 17,5.64 18,5.38 19,5.76 20,11.3"/>
</g></g>
<rect class="ax" x="117" y="2307.6" width="1569" height="223"/>
<use href="#xtt" y="2307.6"/><use href="#xtb" y="2530.6"/>
<path class="tk" d="M117 2339.5h6M117 2371.3h6M117 2403.2h6M117 2435h6M117 2466.9h6M117 2498.7h6M1686 2339.5h-6M1686 2371.3h-6M1686 2403.2h-6M1686 2435h-6M1686 2466.9h-6M1686 2498.7h-6"/>
<text class="ye" x="108" y="2313.6">0.12</text><text class="ye" x="108" y="2345.5">0.11</text><text class="ye" x="108" y="2377.3">0.10</text><text class="ye" x="108" y="2409.2">0.09</text><text class="ye" x="108" y="2441">0.08</text><text class="ye" x="108" y="2472.9">0.07</text><text class="ye" x="108" y="2504.7">0.06</text><text class="ye" x="108" y="2536.6">0.05</text>
<text class="xm" x="195.5" y="2553.4">10/06 01:54:00</text><text class="xm" x="363.8" y="2553.4">10/06 01:55:00</text><text class="xm" x="532.1" y="2553.4">10/06 01:56:00</text><text class="xm" x="700.4" y="2553.4">10/06 01:57:00</text><text class="xm" x="868.7" y="2553.4">10/06 01:58:00</text><text class="xm" x="1037" y="2553.4">10/06 01:59:00</text><text class="xm" x="1205.3" y="2553.4">10/06 02:00:00</text><text class="xm" x="1373.6" y="2553.4">10/06 02:01:00</text><text class="xm" x="1541.9" y="2553.4">10/06 02:02:00</text>
<text transform="translate(48.7 2419) rotate(-90)" y="5" text-anchor="middle" font-size="15" fill="#444"><tspan class="mi" fill="#444">β</tspan><tspan class="mi" font-size="11" dy="3" fill="#444">p</tspan></text>

<!-- ===================== Panel 5: Proton Number Density ===================== -->
<text class="t" x="901.5" y="2632.3">Proton Number Density</text>
<g clip-path="url(#p5)"><g transform="translate(117 3286.02) scale(78.45 -4.9556)">
<polyline class="ts" vector-effect="non-scaling-stroke" stroke="#0000ff" points="0,118.3 1,122.3 2,119.5 3,120.4 4,125.3 5,112.5 6,122.7 7,123.6 8,121.4 9,118.1 10,116.4 11,106.1 12,105.9 13,107.4 14,112.1 15,89.5 16,92.5 17,98 18,93.6 19,86.7 20,103.8"/>
</g></g>
<rect class="ax" x="117" y="2641.8" width="1569" height="223"/>
<use href="#xtt" y="2641.8"/><use href="#xtb" y="2864.8"/>
<path class="tk" d="M117 2666.6h6M117 2691.4h6M117 2716.1h6M117 2740.9h6M117 2765.7h6M117 2790.5h6M117 2815.2h6M117 2840h6M1686 2666.6h-6M1686 2691.4h-6M1686 2716.1h-6M1686 2740.9h-6M1686 2765.7h-6M1686 2790.5h-6M1686 2815.2h-6M1686 2840h-6"/>
<text class="ye" x="108" y="2647.8">130</text><text class="ye" x="108" y="2672.6">125</text><text class="ye" x="108" y="2697.4">120</text><text class="ye" x="108" y="2722.1">115</text><text class="ye" x="108" y="2746.9">110</text><text class="ye" x="108" y="2771.7">105</text><text class="ye" x="108" y="2796.5">100</text><text class="ye" x="108" y="2821.2">95</text><text class="ye" x="108" y="2846">90</text><text class="ye" x="108" y="2870.8">85</text>
<text class="xm" x="195.5" y="2887.6">10/06 01:54:00</text><text class="xm" x="363.8" y="2887.6">10/06 01:55:00</text><text class="xm" x="532.1" y="2887.6">10/06 01:56:00</text><text class="xm" x="700.4" y="2887.6">10/06 01:57:00</text><text class="xm" x="868.7" y="2887.6">10/06 01:58:00</text><text class="xm" x="1037" y="2887.6">10/06 01:59:00</text><text class="xm" x="1205.3" y="2887.6">10/06 02:00:00</text><text class="xm" x="1373.6" y="2887.6">10/06 02:01:00</text><text class="xm" x="1541.9" y="2887.6">10/06 02:02:00</text>
<text transform="translate(57.7 2753) rotate(-90)" y="6" text-anchor="middle">Np(#/cc)</text>

<!-- ===================== Panel 6: Proton Temperature ===================== -->
<text class="t" x="901.5" y="2966.5">Proton Temperature and <tspan class="mi">T</tspan><tspan class="mi" font-size="15" dy="4">e</tspan><tspan class="mi" dy="-4">/T</tspan><tspan class="mi" font-size="15" dy="4">p</tspan></text>
<g clip-path="url(#p6)"><g transform="translate(117 3533.5) scale(78.45 -7.4333)">
<polyline class="ts" vector-effect="non-scaling-stroke" stroke="#0000ff" points="0,61.8 1,62.6 2,58.8 3,60 4,60.7 5,49.6 6,56.3 7,56.3 8,54.5 9,56.5 10,55.6 11,56.3 12,54.9 13,55.1 14,57.8 15,70.2 16,58.6 17,55.3 18,56.9 19,63.7 20,60.4"/>
</g></g>
<rect class="ax" x="117" y="2976" width="1569" height="223"/>
<use href="#xtt" y="2976"/><use href="#xtb" y="3199"/>
<path class="tk" d="M117 3013.2h6M117 3050.3h6M117 3087.5h6M117 3124.7h6M117 3161.8h6M1686 3013.2h-6M1686 3050.3h-6M1686 3087.5h-6M1686 3124.7h-6M1686 3161.8h-6"/>
<text class="ye" x="108" y="2982">0.075</text><text class="ye" x="108" y="3019.2">0.070</text><text class="ye" x="108" y="3056.3">0.065</text><text class="ye" x="108" y="3093.5">0.060</text><text class="ye" x="108" y="3130.7">0.055</text><text class="ye" x="108" y="3167.8">0.050</text><text class="ye" x="108" y="3205">0.045</text>
<text class="xm" x="195.5" y="3221.8">10/06 01:54:00</text><text class="xm" x="363.8" y="3221.8">10/06 01:55:00</text><text class="xm" x="532.1" y="3221.8">10/06 01:56:00</text><text class="xm" x="700.4" y="3221.8">10/06 01:57:00</text><text class="xm" x="868.7" y="3221.8">10/06 01:58:00</text><text class="xm" x="1037" y="3221.8">10/06 01:59:00</text><text class="xm" x="1205.3" y="3221.8">10/06 02:00:00</text><text class="xm" x="1373.6" y="3221.8">10/06 02:01:00</text><text class="xm" x="1541.9" y="3221.8">10/06 02:02:00</text>
<text transform="translate(37.4 3087.5) rotate(-90)" y="6" text-anchor="middle">Tp(<tspan class="mr" font-size="14">10</tspan><tspan class="mr" font-size="9" dy="-6">6</tspan><tspan dy="6">K)</tspan></text>
<rect x="124.4" y="2983.7" width="71.1" height="26.3" fill="#fff" stroke="#000" stroke-width="1.5"/>
<path d="M134.6 2996.5H157.7" stroke="#0000ff" stroke-width="1.75"/>
<text class="lg" x="171.8" y="3001.5">Tp</text>
</svg>
</body></html>
